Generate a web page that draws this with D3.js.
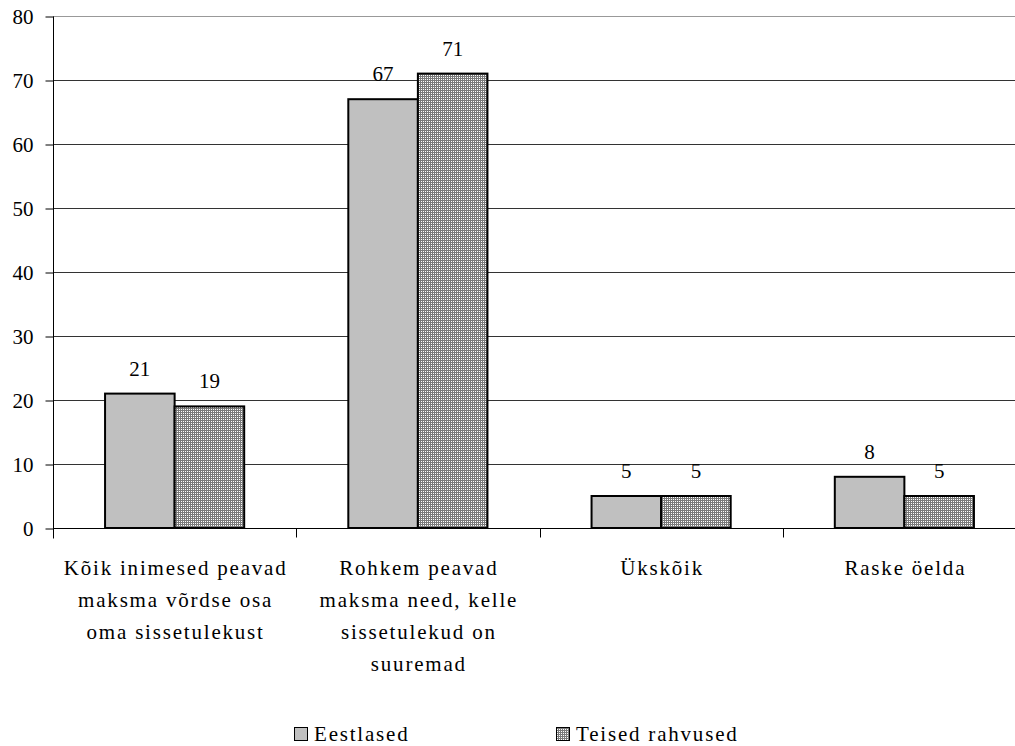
<!DOCTYPE html>
<html><head><meta charset="utf-8">
<script src="https://cdn.jsdelivr.net/npm/d3@7"></script>
<style>body{margin:0;background:#fff}svg{display:block}svg text{font-family:"Liberation Serif","Times New Roman",Times,"DejaVu Serif",serif;fill:#000}</style>
</head><body>
<svg id="c" width="1015" height="746"></svg>
<script>
const categories = [
  ["Kõik inimesed peavad","maksma võrdse osa","oma sissetulekust"],
  ["Rohkem peavad","maksma need, kelle","sissetulekud on","suuremad"],
  ["Ükskõik"],
  ["Raske öelda"]
];
const seriesNames = ["Eestlased","Teised rahvused"];
const eestlased = [21, 67, 5, 8];
const teised = [19, 71, 5, 5];
const yTicks = [0,10,20,30,40,50,60,70,80];

(function(){
const svg = d3.select("#c");
const defs = svg.append("defs");
const pat = defs.append("pattern").attr("id","dots").attr("width",2).attr("height",2).attr("patternUnits","userSpaceOnUse");
pat.append("rect").attr("width",2).attr("height",2).attr("fill","#7a7a7a");
pat.append("rect").attr("x",1).attr("y",1).attr("width",1).attr("height",1).attr("fill","#fff");

const pL = 53, pT = 16, pB = 528, pR = 1026;
const fs = 21, ls = "1.8px";
const y = d3.scaleLinear().domain([0,80]).range([pB, pT]);
const x0 = d3.scaleBand().domain(d3.range(categories.length)).range([pL, pR]).padding(0);
const bw = x0.bandwidth();
const x1 = d3.scaleBand().domain(seriesNames).range([bw*0.214, bw*0.786]).padding(0);
const fills = ["#c0c0c0","url(#dots)"];

// gridlines
svg.append("g").selectAll("line").data(yTicks.filter(d=>d>0)).join("line")
  .attr("x1", pL).attr("x2", 1015)
  .attr("y1", d=>Math.round(y(d))+0.5).attr("y2", d=>Math.round(y(d))+0.5)
  .attr("stroke", d=> d===80 ? "#999" : "#333").attr("stroke-width",1);

// y axis
const yAxis = svg.append("g").attr("transform",`translate(${pL+0.5},0.5)`)
  .call(d3.axisLeft(y).tickValues(yTicks).tickSize(8).tickPadding(12));
yAxis.attr("font-family", null).attr("font-size", null);
yAxis.select(".domain").attr("d", `M0,${pT}V${pB+10}`).attr("stroke","#000");
yAxis.selectAll(".tick line").attr("stroke","#000");
yAxis.selectAll(".tick text").style("font-size", fs+"px").attr("dy","0.35em");

// bars
const data = [eestlased, teised];
data.forEach((vals, si) => {
  const g = svg.append("g");
  g.selectAll("rect").data(vals).join("rect")
    .attr("x", (d,i)=> x0(i) + x1(seriesNames[si]))
    .attr("y", d=> y(d))
    .attr("width", x1.bandwidth())
    .attr("height", d=> y(0)-y(d))
    .attr("fill", fills[si]).attr("stroke","#000").attr("stroke-width",2);
  g.selectAll("text").data(vals).join("text")
    .attr("x", (d,i)=> x0(i) + x1(seriesNames[si]) + x1.bandwidth()/2)
    .attr("y", d=> y(d) - 18)
    .attr("text-anchor","middle").style("font-size", fs+"px")
    .text(d=>d);
});

// x axis
const xAxis = svg.append("g").attr("transform",`translate(0,${pB+0.5})`);
xAxis.append("line").attr("x1",pL).attr("x2",1015).attr("stroke","#000");
xAxis.selectAll("line.tk").data(d3.range(categories.length+1)).join("line").attr("class","tk")
  .attr("x1", i=> Math.round(pL + i*bw)+0.5).attr("x2", i=> Math.round(pL + i*bw)+0.5)
  .attr("y1",0).attr("y2",9).attr("stroke","#000");

// category labels
svg.append("g").selectAll("text").data(categories).join("text")
  .attr("text-anchor","middle").style("font-size", fs+"px").style("letter-spacing", ls)
  .each(function(lines,i){
    d3.select(this).selectAll("tspan").data(lines).join("tspan")
      .attr("x", x0(i)+bw/2+1).attr("y",(d,j)=>575 + j*32).text(d=>d);
  });

// legend
const legX = [294, 556];
const leg = svg.append("g");
seriesNames.forEach((n,i)=>{
  leg.append("rect").attr("x",legX[i]+0.5).attr("y",727.5).attr("width",13).attr("height",13)
    .attr("fill",fills[i]).attr("stroke","#000").attr("stroke-width",1);
  leg.append("text").attr("x",legX[i]+20).attr("y",741).style("font-size", fs+"px").style("letter-spacing", ls).text(n);
});
})();
</script>
</body></html>
